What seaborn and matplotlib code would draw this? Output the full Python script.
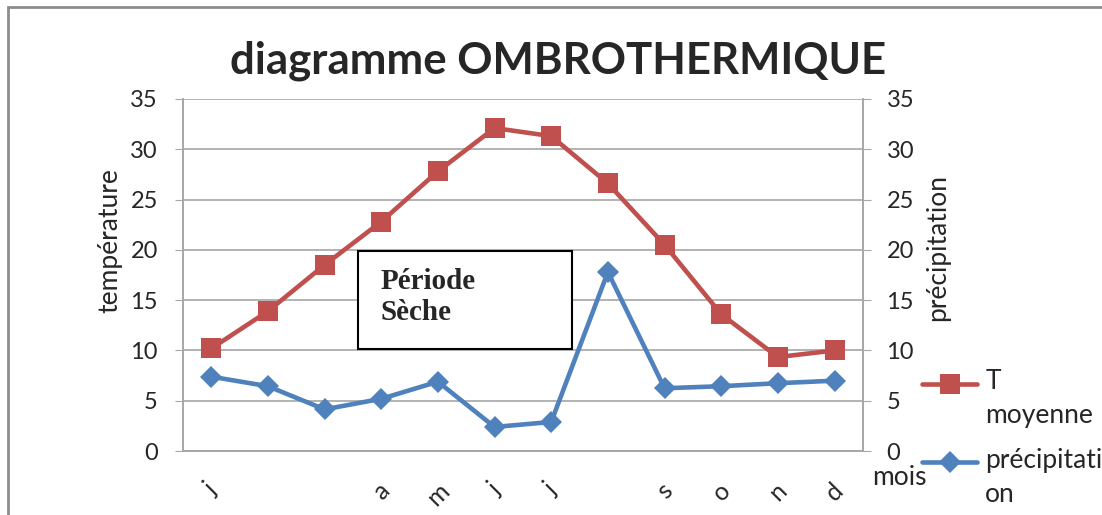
import numpy as np
import pandas as pd
import matplotlib.pyplot as plt
import seaborn as sns
from matplotlib.patches import Rectangle

sns.set_style("white")
plt.rcParams['font.family'] = ['Lato', 'DejaVu Sans']

# données
mois = ['j', 'f', 'm', 'a', 'm', 'j', 'j', 'a', 's', 'o', 'n', 'd']
etiquettes = ['j', '', '', 'a', 'm', 'j', 'j', '', 's', 'o', 'n', 'd']
t_moyenne = [10.2, 13.9, 18.5, 22.8, 27.8, 32.1, 31.3, 26.6, 20.5, 13.6, 9.35, 10.0]
precipitation = [7.4, 6.45, 4.15, 5.2, 6.9, 2.4, 2.9, 17.8, 6.25, 6.45, 6.75, 7.0]

df = pd.DataFrame({'pos': np.arange(len(mois)), 'mois': mois,
                   'T moyenne': t_moyenne, 'precipitation': precipitation})

rouge = '#C0504D'
bleu = '#4F81BD'
gris = '#A6A6A6'

fig = plt.figure(figsize=(11.02, 5.15), dpi=100)
ax = fig.add_axes([0.166, 0.124, 0.617, 0.684])
ax2 = ax.twinx()

sns.lineplot(data=df, x='pos', y='T moyenne', ax=ax, color=rouge, marker='s',
             markersize=14, markeredgewidth=0, linewidth=3.3, label='T\nmoyenne', legend=False)
sns.lineplot(data=df, x='pos', y='precipitation', ax=ax2, color=bleu, marker='D',
             markersize=11, markeredgewidth=0, linewidth=3.3, label='précipitati\non', legend=False)

for a in (ax, ax2):
    a.set_ylim(0, 35)
    a.set_yticks(range(0, 36, 5))
    a.set_xlim(-0.5, 11.5)
    for s in a.spines.values():
        s.set_color(gris)
        s.set_linewidth(1.2)
    a.spines['top'].set_visible(False)
    a.tick_params(axis='y', length=6, color=gris, labelsize=17)
ax.tick_params(axis='y', pad=12)
ax2.tick_params(axis='y', pad=11)

ax.yaxis.grid(True, color=gris, linewidth=1.2)
ax.set_axisbelow(True)
ax.set_xticks(df['pos'])
ax.set_xticklabels(etiquettes, rotation=45, fontsize=18)
ax.tick_params(axis='x', length=0, pad=20)
ax.set_xlabel('mois', fontsize=19)
ax.xaxis.set_label_coords(1.053, -0.04)
ax.set_ylabel('température', fontsize=19, labelpad=6)
ax.yaxis.label.set_y(0.597)
ax2.set_ylabel('précipitation', fontsize=19, labelpad=8)
ax2.yaxis.label.set_y(0.577)
ax2.set_xlabel('')

fig.text(0.506, 0.882, 'diagramme OMBROTHERMIQUE', ha='center', va='center',
         fontsize=31.5, fontweight='bold')

# encadré période sèche
ax.add_patch(Rectangle((2.59, 10.15), 6.36 - 2.59, 19.9 - 10.15, facecolor='white',
                       edgecolor='black', linewidth=1.5, zorder=4))
ax.text(2.98, 15.3, 'Période\nSèche', fontsize=21, fontweight='bold', family='Liberation Serif',
        va='center', ha='left', linespacing=1.2, zorder=5)

h1, l1 = ax.get_legend_handles_labels()
h2, l2 = ax2.get_legend_handles_labels()
leg = fig.legend(h1 + h2, l1 + l2, loc='upper left', bbox_to_anchor=(0.815, 0.329),
                 frameon=False, fontsize=19, handlelength=2.1, labelspacing=0.75,
                 handletextpad=0.3)
for t in leg.get_texts():
    t.set_linespacing(1.45)
# symbole aligné sur la première ligne du libellé
for h in leg.legend_handles:
    h.set_ydata(np.asarray(h.get_ydata()) + 11.5)

# cadre du graphique
fig.add_artist(Rectangle((0.007, -0.1), 1.2, 0.1 + 0.986, transform=fig.transFigure,
                         fill=False, edgecolor='#8C8C8C', linewidth=2))

fig.savefig('out.png', dpi=100)
